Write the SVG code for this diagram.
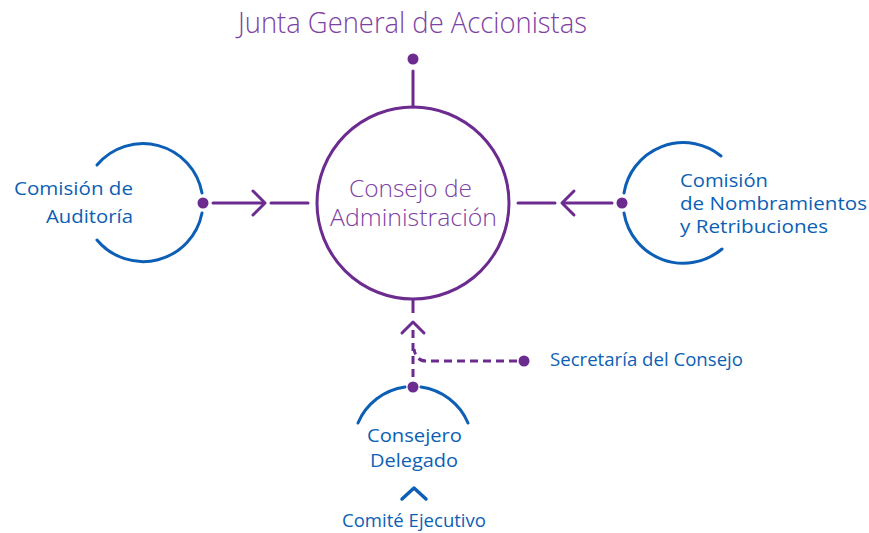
<svg xmlns="http://www.w3.org/2000/svg" width="869" height="533" viewBox="0 0 869 533">
<style>
.blue{fill:none;stroke:#0c5fb5;stroke-width:3;stroke-linecap:round}
.pl{fill:none;stroke:#6c2b8f;stroke-width:3;stroke-linecap:round;stroke-linejoin:round}
.dash{fill:none;stroke:#6c2b8f;stroke-width:3;stroke-dasharray:8 5}
.dot{fill:#6c2b8f}
.bt{font-family:"Open Sans","Noto Sans",sans-serif;fill:#0c5fb5;font-size:19px}
.pt{font-family:"Open Sans","Noto Sans",sans-serif;fill:#7d42a3;font-weight:300}
</style>
<rect width="869" height="533" fill="#ffffff"/>
<g id="junta">
<text class="pt" x="238" y="33" font-size="29" textLength="349" lengthAdjust="spacingAndGlyphs">Junta General de Accionistas</text>
<circle class="dot" cx="413" cy="59" r="5.5"/>
</g>
<g id="consejo">
<circle cx="413" cy="203" r="96" fill="none" stroke="#6c2b8f" stroke-width="3"/>
<text class="pt" x="349" y="197" font-size="24" textLength="123" lengthAdjust="spacingAndGlyphs">Consejo de</text>
<text class="pt" x="330" y="226" font-size="24" textLength="167" lengthAdjust="spacingAndGlyphs">Administración</text>
</g>
<g id="auditoria">
<path class="blue" d="M 97 165 A 60 60 0 0 1 202 193"/>
<path class="blue" d="M 202 213 A 60 60 0 0 1 97 240"/>
<circle class="dot" cx="203" cy="203" r="5.5"/>
<text class="bt" x="14" y="195" textLength="119" lengthAdjust="spacingAndGlyphs">Comisión de</text>
<text class="bt" x="46" y="223" textLength="87" lengthAdjust="spacingAndGlyphs">Auditoría</text>
</g>
<g id="nombramientos">
<path class="blue" d="M 721 156 A 60 60 0 0 0 624 193"/>
<path class="blue" d="M 624 213 A 60 60 0 0 0 722 249"/>
<circle class="dot" cx="622" cy="203" r="5.5"/>
<text class="bt" x="680" y="187" textLength="88" lengthAdjust="spacingAndGlyphs">Comisión</text>
<text class="bt" x="680" y="210" textLength="187" lengthAdjust="spacingAndGlyphs">de Nombramientos</text>
<text class="bt" x="680" y="233" textLength="148" lengthAdjust="spacingAndGlyphs">y Retribuciones</text>
</g>
<g id="secretaria">
<circle class="dot" cx="524" cy="361" r="5.5"/>
<text class="bt" x="550" y="366" font-size="17" textLength="193" lengthAdjust="spacingAndGlyphs">Secretaría del Consejo</text>
</g>
<g id="consejero">
<path class="blue" d="M 358 423 A 60 60 0 0 1 405 387"/>
<path class="blue" d="M 421 387 A 60 60 0 0 1 468 423"/>
<circle class="dot" cx="413" cy="387" r="5.5"/>
<text class="bt" x="367" y="442" textLength="95" lengthAdjust="spacingAndGlyphs">Consejero</text>
<text class="bt" x="370" y="467" textLength="88" lengthAdjust="spacingAndGlyphs">Delegado</text>
</g>
<g id="comite">
<path d="M 402 499 L 414 488 L 426 499" fill="none" stroke="#0c5fb5" stroke-width="3.5" stroke-linecap="round" stroke-linejoin="round"/>
<text class="bt" x="342" y="527" font-size="16" textLength="144" lengthAdjust="spacingAndGlyphs">Comité Ejecutivo</text>
</g>
<g id="connectors">
<line class="pl" x1="413" y1="71" x2="413" y2="107"/>
<line class="pl" x1="213" y1="203" x2="264" y2="203"/>
<path class="pl" d="M 253 191 L 265 203 L 253 215"/>
<line class="pl" x1="271" y1="203" x2="308" y2="203"/>
<line class="pl" x1="612" y1="203" x2="563" y2="203"/>
<path class="pl" d="M 574 191 L 562 203 L 574 215"/>
<line class="pl" x1="555" y1="203" x2="518" y2="203"/>
<line class="dash" x1="413" y1="300" x2="413" y2="313" style="stroke-dasharray:none"/>
<path class="pl" d="M 402 333 L 413 322 L 424 333"/>
<line class="dash" x1="413" y1="330" x2="413" y2="381"/>
<path class="dash" d="M 517 361 L 426 361 Q 416 361 414 349"/>
</g>
</svg>
